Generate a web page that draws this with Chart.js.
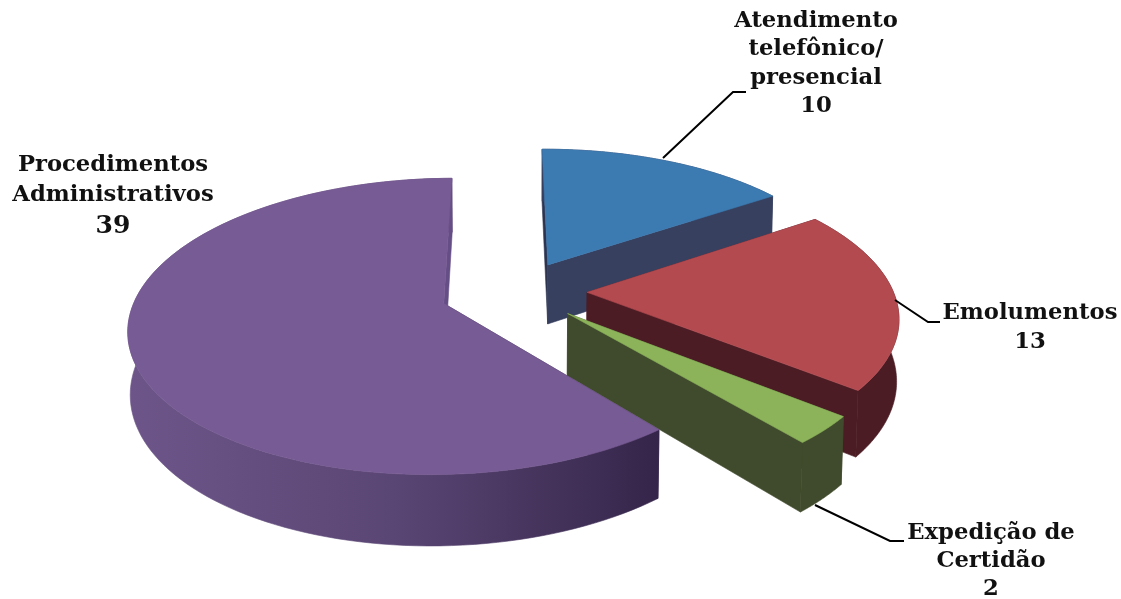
<!DOCTYPE html>
<html>
<head>
<meta charset="utf-8">
<title>Atendimentos</title>
<script src="https://cdn.jsdelivr.net/npm/chart.js@4"></script>
<style>
  html, body { margin: 0; padding: 0; background: #fff; }
  canvas { display: block; }
</style>
</head>
<body>
<canvas id="pieChart" width="1121" height="599"></canvas>
<script>
/* ============= Data: ============= */
var categories = [
  ['Atendimento', 'telefônico/', 'presencial'],
  ['Emolumentos'],
  ['Expedição de', 'Certidão'],
  ['Procedimentos', 'Administrativos']
];
var values = [10, 13, 2, 39];

/* ============= Styles: ============= */
var topColors = ['#3c7ab2', '#b34a50', '#8cb35a', '#775b94'];
var wallColors = ['#37405f', '#4b1c23', '#404a2c', '#35254a'];
var wallMid = ['#37405f', '#4b1c23', '#404a2c', '#5a4674'];
var wallLight = ['#37405f', '#4b1c23', '#404a2c', '#6d5589'];
var startFace = ['#2c3450', '#4b1c23', '#404a2c', '#35254a'];
var endFace = ['#37405f', '#4b1c23', '#404a2c', '#654d85'];
var explode = [66, 69, 68, 78];

// label anchor (centre x, first line middle y), line gap and leader line per slice
var labelSpots = [[816, 21], [1030, 313], [991, 533], [113, 165]];
var labelGaps = [28.5, 29, 28, 30.5];
var valueFonts = [22.7, 22.7, 22.7, 25];
var leaders = [
  [[663, 158], [733, 92], [746, 92]],
  [[895, 300], [928, 322], [940, 322]],
  [[815, 505], [890, 541], [904, 541]],
  null
];

/* ============= Projection: ============= */
var view = { cx: 518, cy: 291, tilt: 0.46, persp: 0.0005, drop: 0.0001, radius: 306, depth: 61 };

function project(u, v, z) {
  var g = 1 / (1 - view.persp * v + view.drop * z);
  return [view.cx + u * g, view.cy + (v * view.tilt + z) * g];
}

function polygon(ctx, pts, fill) {
  ctx.beginPath();
  for (var i = 0; i < pts.length; i++) {
    if (i === 0) ctx.moveTo(pts[i][0], pts[i][1]);
    else ctx.lineTo(pts[i][0], pts[i][1]);
  }
  ctx.closePath();
  ctx.fillStyle = fill;
  ctx.fill();
  ctx.strokeStyle = fill;
  ctx.lineWidth = 0.6;
  ctx.stroke();
}

function drawSlice(ctx, arc, i) {
  var p = arc.getProps(['startAngle', 'endAngle']);
  var offset = arc.options.offset;
  var mid = (p.startAngle + p.endAngle) / 2;
  var ou = Math.cos(mid) * offset;
  var ov = Math.sin(mid) * offset;
  var steps = 120;
  var rim = [];
  for (var s = 0; s <= steps; s++) {
    var t = p.startAngle + (p.endAngle - p.startAngle) * s / steps;
    rim.push([ou + Math.cos(t) * view.radius, ov + Math.sin(t) * view.radius]);
  }

  function up(q) { return project(q[0], q[1], 0); }
  function down(q) { return project(q[0], q[1], view.depth); }

  var apex = [ou, ov];
  var topEdge = rim.map(up);
  var bottomEdge = rim.map(down).reverse();

  polygon(ctx, [up(apex), up(rim[0]), down(rim[0]), down(apex)], startFace[i]);

  // outer wall, shaded left to right
  var xs = topEdge.map(function (q) { return q[0]; });
  var grad = ctx.createLinearGradient(Math.min.apply(null, xs), 0, Math.max.apply(null, xs), 0);
  grad.addColorStop(0, wallLight[i]);
  grad.addColorStop(0.5, wallMid[i]);
  grad.addColorStop(1, wallColors[i]);
  polygon(ctx, topEdge.concat(bottomEdge), grad);

  polygon(ctx, [up(apex), up(rim[steps]), down(rim[steps]), down(apex)], endFace[i]);

  // top face
  polygon(ctx, [up(apex)].concat(topEdge), arc.options.backgroundColor);
}

/* ============= Plugin: ============= */
var pie3d = {
  id: 'pie3d',
  beforeDatasetsDraw: function (chart) {
    var ctx = chart.ctx;
    var arcs = chart.getDatasetMeta(0).data;
    ctx.save();
    for (var i = 0; i < arcs.length; i++) drawSlice(ctx, arcs[i], i);
    ctx.restore();
    return false;
  },
  afterDraw: function (chart) {
    var ctx = chart.ctx;
    ctx.save();
    ctx.strokeStyle = '#000';
    ctx.lineWidth = 2;
    for (var i = 0; i < leaders.length; i++) {
      if (!leaders[i]) continue;
      ctx.beginPath();
      ctx.moveTo(leaders[i][0][0], leaders[i][0][1]);
      ctx.lineTo(leaders[i][1][0], leaders[i][1][1]);
      ctx.lineTo(leaders[i][2][0], leaders[i][2][1]);
      ctx.stroke();
    }
    ctx.fillStyle = '#111';
    ctx.textAlign = 'center';
    ctx.textBaseline = 'middle';
    for (var j = 0; j < categories.length; j++) {
      var lines = categories[j].concat(String(values[j]));
      for (var n = 0; n < lines.length; n++) {
        var size = n === lines.length - 1 ? valueFonts[j] : 22.7;
        ctx.font = 'bold ' + size + 'px "DejaVu Serif"';
        ctx.fillText(lines[n], labelSpots[j][0], labelSpots[j][1] + n * labelGaps[j]);
      }
    }
    ctx.restore();
  }
};

/* ============= Main(): ============= */
new Chart(document.getElementById('pieChart').getContext('2d'), {
  type: 'pie',
  data: {
    labels: categories,
    datasets: [{ data: values, backgroundColor: topColors, offset: explode, borderWidth: 0 }]
  },
  options: {
    responsive: false,
    animation: false,
    rotation: -0.4,
    plugins: { legend: { display: false }, tooltip: { enabled: false } }
  },
  plugins: [pie3d]
});
</script>
</body>
</html>
